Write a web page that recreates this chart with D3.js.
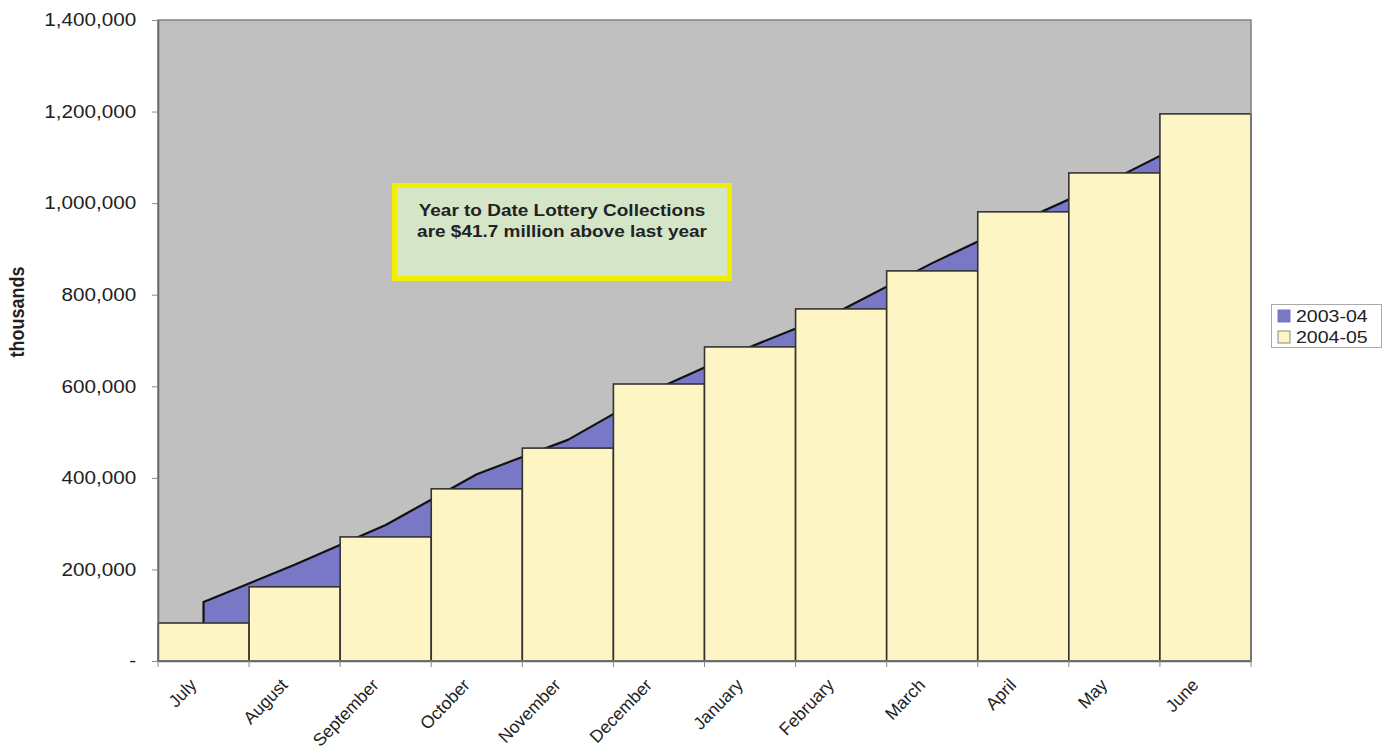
<!DOCTYPE html>
<html>
<head>
<meta charset="utf-8">
<script src="https://cdn.jsdelivr.net/npm/d3@7/dist/d3.min.js"></script>
<style>
  html, body { margin: 0; padding: 0; background: #ffffff; }
  svg { display: block; }
  text { font-family: "Liberation Sans", Arial, sans-serif; fill: #222; }
</style>
</head>
<body>
<svg id="chart" width="1392" height="753"></svg>
<script>
// ---- data ----
const months = ["July","August","September","October","November","December",
                "January","February","March","April","May","June"];
const fy2003_04 = [129000, 210000, 297000, 408000, 483000, 596000,
                   686000, 766000, 869000, 963000, 1053000, 1153000];
const fy2004_05 = [83000, 162000, 271000, 376000, 465000, 605000,
                   686000, 769000, 852000, 981000, 1066000, 1195000];
const yTicks = [0, 200000, 400000, 600000, 800000, 1000000, 1200000, 1400000];
const seriesNames = ["2003-04", "2004-05"];
const annotationLines = ["Year to Date Lottery Collections", "are $41.7 million above last year"];
const yTitle = "thousands";

// ---- layout ----
const plot = { left: 158, right: 1251, top: 20, bottom: 661 };
const SX = 1.15; // horizontal text stretch of the original
const colors = { area: "#7878c6", bar: "#fdf6c4", bg: "#c0c0c0" };

const svg = d3.select("#chart");

const x = d3.scaleBand().domain(months).range([plot.left, plot.right]).padding(0);
const y = d3.scaleLinear().domain([0, 1400000]).range([plot.bottom, plot.top]);

// plot background
svg.append("rect")
  .attr("x", plot.left).attr("y", plot.top)
  .attr("width", plot.right - plot.left).attr("height", plot.bottom - plot.top)
  .attr("fill", colors.bg);

// area series 2003-04 (points at category centres)
const areaData = months.map((m, i) => ({ m, v: fy2003_04[i] }));
const area = d3.area()
  .x(d => x(d.m) + x.bandwidth() / 2)
  .y0(y(0))
  .y1(d => y(d.v));
svg.append("path")
  .datum(areaData)
  .attr("d", area)
  .attr("fill", colors.area)
  .attr("stroke", "#111")
  .attr("stroke-width", 2.2)
  .attr("stroke-linejoin", "round");

// bars 2004-05
const barData = months.map((m, i) => ({ m, v: fy2004_05[i] }));
svg.append("g").selectAll("rect")
  .data(barData).join("rect")
  .attr("x", d => x(d.m))
  .attr("y", d => y(d.v))
  .attr("width", x.bandwidth())
  .attr("height", d => y(0) - y(d.v))
  .attr("fill", colors.bar)
  .attr("stroke", "#333")
  .attr("stroke-width", 1.6);

// plot border
svg.append("rect")
  .attr("x", plot.left).attr("y", plot.top)
  .attr("width", plot.right - plot.left).attr("height", plot.bottom - plot.top)
  .attr("fill", "none")
  .attr("stroke", "#808080")
  .attr("stroke-width", 1.5);

// y axis
const yAxis = d3.axisLeft(y)
  .tickValues(yTicks)
  .tickFormat(d => d === 0 ? "-" : d3.format(",")(d))
  .tickSizeInner(6).tickSizeOuter(0).tickPadding(13);
const gy = svg.append("g").attr("transform", `translate(${plot.left},0)`).call(yAxis);
gy.select(".domain").attr("stroke", "#666").attr("stroke-width", 1.5);
gy.selectAll(".tick line").attr("stroke", "#888");
gy.selectAll(".tick text")
  .attr("font-size", 18)
  .attr("font-family", "Liberation Sans, Arial, sans-serif")
  .attr("fill", "#222")
  .attr("transform", `scale(${SX},1)`);

// x axis (labels at category centres, ticks at boundaries)
const xAxis = d3.axisBottom(x).tickSize(0).tickPadding(0);
const gx = svg.append("g").attr("transform", `translate(0,${plot.bottom})`).call(xAxis);
gx.select(".domain").attr("stroke", "#666").attr("stroke-width", 1.5);
gx.selectAll(".tick text")
  .attr("x", 0).attr("y", 0).attr("dy", 0)
  .attr("font-size", 17.5)
  .attr("font-family", "Liberation Sans, Arial, sans-serif")
  .attr("fill", "#222")
  .attr("text-anchor", "end")
  .attr("transform", "translate(-6,25) rotate(-46)");
const boundaries = months.map(m => x(m)).concat([plot.right]);
svg.append("g").selectAll("line")
  .data(boundaries).join("line")
  .attr("x1", d => d).attr("x2", d => d)
  .attr("y1", plot.bottom).attr("y2", plot.bottom + 6)
  .attr("stroke", "#888");

// y axis title
svg.append("text")
  .attr("transform", `translate(24,312) scale(${SX},1) rotate(-90)`)
  .attr("text-anchor", "middle")
  .attr("font-size", 18)
  .attr("font-weight", "bold")
  .text(yTitle);

// annotation box
const ann = svg.append("g");
ann.append("rect")
  .attr("x", 394.5).attr("y", 185.5).attr("width", 335).attr("height", 93)
  .attr("fill", "#d5e6c8")
  .attr("stroke", "#f2ee00")
  .attr("stroke-width", 5);
annotationLines.forEach((t, i) => {
  ann.append("text")
    .attr("transform", `translate(562,${216 + i * 21}) scale(${SX},1)`)
    .attr("text-anchor", "middle")
    .attr("font-size", 16.5)
    .attr("font-weight", "bold")
    .attr("fill", "#2a2a2a")
    .text(t);
});

// legend
const lg = svg.append("g");
lg.append("rect")
  .attr("x", 1271.5).attr("y", 304.5).attr("width", 110).attr("height", 43)
  .attr("fill", "#ffffff")
  .attr("stroke", "#aaaaaa")
  .attr("stroke-width", 1);
const legendColors = [colors.area, colors.bar];
seriesNames.forEach((s, i) => {
  const cy = 316 + i * 21;
  lg.append("rect")
    .attr("x", 1278).attr("y", cy - 6).attr("width", 12).attr("height", 12)
    .attr("fill", legendColors[i])
    .attr("stroke", i === 0 ? colors.area : "#888")
    .attr("stroke-width", 1);
  lg.append("text")
    .attr("transform", `translate(1296,${cy + 6}) scale(${SX},1)`)
    .attr("font-size", 17)
    .attr("fill", "#222")
    .text(s);
});
</script>
</body>
</html>
